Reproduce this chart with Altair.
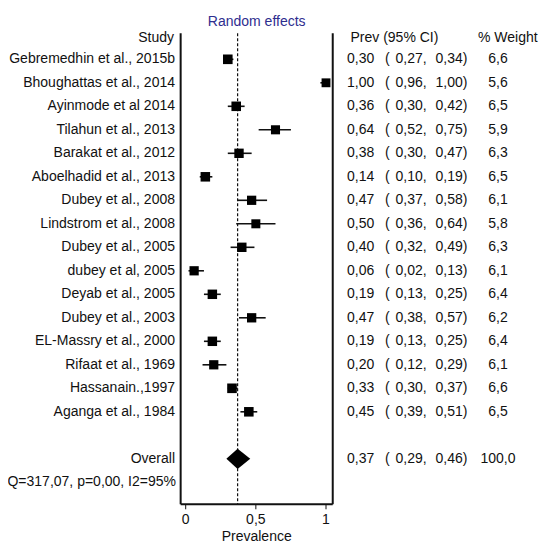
import altair as alt
import pandas as pd

# ---------------- data ----------------
studies = [
    "Gebremedhin et al., 2015b", "Bhoughattas et al., 2014", "Ayinmode et al 2014",
    "Tilahun et al., 2013", "Barakat et al., 2012", "Aboelhadid et al., 2013",
    "Dubey et al., 2008", "Lindstrom et al., 2008", "Dubey et al., 2005",
    "dubey et al, 2005", "Deyab et al., 2005", "Dubey et al., 2003",
    "EL-Massry et al., 2000", "Rifaat et al., 1969", "Hassanain.,1997",
    "Aganga et al., 1984",
]
prev = [0.30, 1.00, 0.36, 0.64, 0.38, 0.14, 0.47, 0.50, 0.40, 0.06, 0.19, 0.47, 0.19, 0.20, 0.33, 0.45]
lower = [0.27, 0.96, 0.30, 0.52, 0.30, 0.10, 0.37, 0.36, 0.32, 0.02, 0.13, 0.38, 0.13, 0.12, 0.30, 0.39]
upper = [0.34, 1.00, 0.42, 0.75, 0.47, 0.19, 0.58, 0.64, 0.49, 0.13, 0.25, 0.57, 0.25, 0.29, 0.37, 0.51]
weights = [6.6, 5.6, 6.5, 5.9, 6.3, 6.5, 6.1, 5.8, 6.3, 6.1, 6.4, 6.2, 6.4, 6.1, 6.6, 6.5]

overall_label = "Overall"
overall_prev, overall_lo, overall_hi, overall_w = 0.37, 0.29, 0.46, 100.0
het_text = "Q=317,07, p=0,00, I2=95%"
x_ticks = [0, 0.5, 1]
x_tick_labels = ["0", "0,5", "1"]
x_title = "Prevalence"
headers = {"study": "Study", "ci": "Prev (95% CI)", "weight": "% Weight", "top": "Random effects"}

# ---------------- layout constants ----------------
W, H = 533, 536
PX0, PXU = 177.7, 140.3        # pixel of x=0, pixels per unit
PY0, PYR = 27.8, 23.5          # pixel of row 0, pixels per row
XMIN, XMAX = -0.036, 1.048     # plot frame
TOP_ROW, BOT_ROW = -0.106, 19.936
OVERALL_ROW, HET_ROW = 18, 19
DIAMOND_HALF = 0.43

xs = alt.Scale(domain=[-PX0 / PXU, (W - PX0) / PXU], nice=False, zero=False)
ys = alt.Scale(domain=[-PY0 / PYR, (H - PY0) / PYR], nice=False, zero=False, reverse=True)


def c(v, d=2):
    return f"{v:.{d}f}".replace(".", ",")


df = pd.DataFrame({"row": list(range(1, len(studies) + 1)), "study": studies,
                   "prev": prev, "lo": lower, "hi": upper, "w": weights})
ov = pd.DataFrame({"row": [OVERALL_ROW], "study": [overall_label], "prev": [overall_prev],
                   "lo": [overall_lo], "hi": [overall_hi], "w": [overall_w]})
tbl = pd.concat([df, ov], ignore_index=True)
tbl["prev_s"] = tbl["prev"].map(c)
tbl["lo_s"] = tbl["lo"].map(c) + ","
tbl["hi_s"] = tbl["hi"].map(c) + ")"
tbl["w_s"] = tbl["w"].map(lambda v: c(v, 1))

het_df = pd.DataFrame({"row": [HET_ROW], "study": [het_text]})
diamond = pd.DataFrame({"x": [overall_lo, overall_prev, overall_hi],
                        "y": [OVERALL_ROW, OVERALL_ROW - DIAMOND_HALF, OVERALL_ROW],
                        "y2": [OVERALL_ROW, OVERALL_ROW + DIAMOND_HALF, OVERALL_ROW]})
vlines = pd.DataFrame({"x": [XMIN, XMAX], "y": [TOP_ROW, TOP_ROW], "y2": [BOT_ROW, BOT_ROW]})
hline = pd.DataFrame({"x": [XMIN], "x2": [XMAX], "y": [BOT_ROW]})
ref = pd.DataFrame({"x": [overall_prev], "y": [TOP_ROW], "y2": [BOT_ROW]})
ticks = pd.DataFrame({"x": x_ticks, "label": x_tick_labels})
title_df = pd.DataFrame({"x": [(XMIN + XMAX) / 2], "t": [x_title]})

INK = "#111111"
TXT = dict(font="Liberation Sans", fontSize=14, color=INK, baseline="middle")

X = lambda f: alt.X(f, scale=xs, axis=None)
Y = lambda f: alt.Y(f, scale=ys, axis=None)

ref_line = alt.Chart(ref).mark_rule(color=INK, strokeWidth=1.2, strokeDash=[3, 2]).encode(
    x=X("x:Q"), y=Y("y:Q"), y2="y2:Q")
frame_v = alt.Chart(vlines).mark_rule(color=INK, strokeWidth=2).encode(
    x=X("x:Q"), y=Y("y:Q"), y2="y2:Q")
frame_h = alt.Chart(hline).mark_rule(color=INK, strokeWidth=2).encode(
    x=X("x:Q"), x2="x2:Q", y=Y("y:Q"))
tick_marks = alt.Chart(ticks).mark_rule(color=INK, strokeWidth=1).encode(
    x=X("x:Q"), y=alt.value(PY0 + PYR * BOT_ROW), y2=alt.value(PY0 + PYR * BOT_ROW + 5))
tick_text = alt.Chart(ticks).mark_text(align="center", **TXT).encode(
    x=X("x:Q"), y=alt.value(512), text="label:N")
xtitle = alt.Chart(title_df).mark_text(align="center", **TXT).encode(
    x=X("x:Q"), y=alt.value(529), text="t:N")

ci = alt.Chart(df).mark_rule(color=INK, strokeWidth=1.6).encode(
    x=X("lo:Q"), x2="hi:Q", y=Y("row:Q"))
boxes = alt.Chart(df).mark_point(shape="square", filled=True, color="#000000", opacity=1).encode(
    x=X("prev:Q"), y=Y("row:Q"),
    size=alt.Size("w:Q", scale=alt.Scale(domain=[0, 10], range=[0, 140]), legend=None))
dia = alt.Chart(diamond).mark_area(color="#000000", opacity=1).encode(
    x=X("x:Q"), y=Y("y:Q"), y2="y2:Q")

study_txt = alt.Chart(tbl).mark_text(align="right", **TXT).encode(
    x=alt.value(167), y=Y("row:Q"), text="study:N")
het_txt = alt.Chart(het_df).mark_text(align="right", **TXT).encode(
    x=alt.value(168), y=Y("row:Q"), text="study:N")
prev_txt = alt.Chart(tbl).mark_text(align="left", **TXT).encode(
    x=alt.value(339), y=Y("row:Q"), text="prev_s:N")
paren_txt = alt.Chart(tbl).mark_text(align="left", **TXT).encode(
    x=alt.value(377), y=Y("row:Q"), text=alt.value("("))
lo_txt = alt.Chart(tbl).mark_text(align="left", **TXT).encode(
    x=alt.value(387.5), y=Y("row:Q"), text="lo_s:N")
hi_txt = alt.Chart(tbl).mark_text(align="left", **TXT).encode(
    x=alt.value(427.5), y=Y("row:Q"), text="hi_s:N")
w_txt = alt.Chart(tbl).mark_text(align="center", **TXT).encode(
    x=alt.value(490), y=Y("row:Q"), text="w_s:N")

hdr = pd.DataFrame({"row": [0.08, 0.08, 0.08],
                    "t": [headers["study"], headers["ci"], headers["weight"]]})
h_study = alt.Chart(hdr.iloc[[0]]).mark_text(align="right", **TXT).encode(
    x=alt.value(166), y=Y("row:Q"), text="t:N")
h_ci = alt.Chart(hdr.iloc[[1]]).mark_text(align="left", **TXT).encode(
    x=alt.value(342.5), y=Y("row:Q"), text="t:N")
h_w = alt.Chart(hdr.iloc[[2]]).mark_text(align="left", **TXT).encode(
    x=alt.value(470), y=Y("row:Q"), text="t:N")
top_df = pd.DataFrame({"row": [-0.6], "x": [(XMIN + XMAX) / 2], "t": [headers["top"]]})
h_top = alt.Chart(top_df).mark_text(align="center", font="Liberation Sans", fontSize=14,
                                    color="#2e2e8f", baseline="middle").encode(
    x=X("x:Q"), y=Y("row:Q"), text="t:N")

chart = alt.layer(
    ref_line, frame_v, frame_h, tick_marks, tick_text, xtitle,
    ci, boxes, dia,
    study_txt, het_txt, prev_txt, paren_txt, lo_txt, hi_txt, w_txt,
    h_study, h_ci, h_w, h_top,
).properties(
    width=W, height=H, autosize=alt.AutoSizeParams(type="none"), padding=0,
    background="white",
).configure_view(strokeWidth=0)

chart.save("out.html", embed_options={"renderer": "svg", "actions": False})
